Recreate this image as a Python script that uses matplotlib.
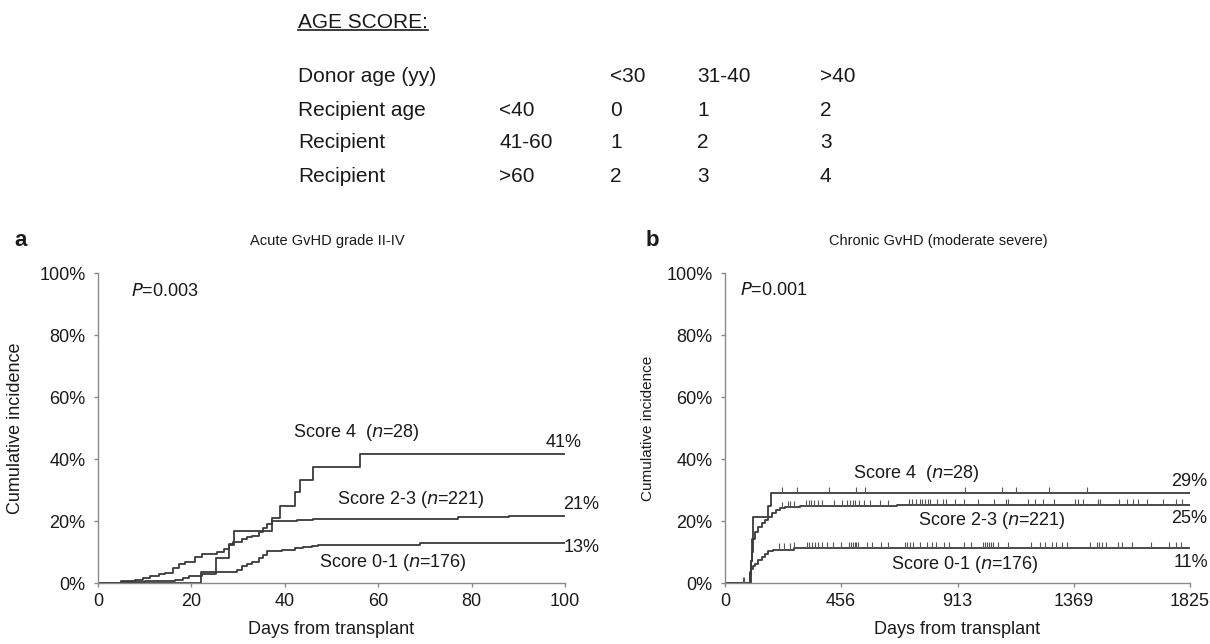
import numpy as np
import matplotlib
matplotlib.use("Agg")
import matplotlib.pyplot as plt
from matplotlib.lines import Line2D
from matplotlib.ticker import FuncFormatter

plt.rcParams['font.family'] = ['Liberation Sans', 'DejaVu Sans']

W, H = 1210, 644

# ---- age score table ----
table_header = ["Donor age (yy)", "", "<30", "31-40", ">40"]
table_rows = [["Recipient age", "<40", "0", "1", "2"],
              ["Recipient", "41-60", "1", "2", "3"],
              ["Recipient", ">60", "2", "3", "4"]]

# ---- panel a: acute GvHD grade II-IV (days 0-100) ----
a_s4_days = [0, 22, 25.2, 28.1, 29.2, 37.2, 39, 42.2, 43.2, 46.1, 56, 100]
a_s4_ci = [0, 3.7, 8.0, 12.3, 16.8, 21.0, 25.0, 29.3, 33.3, 37.4, 41.5, 41.5]

a_s23_days = [0, 5, 6.5, 8, 9.7, 11.1, 13, 14.4, 16.1, 17.3, 18.6, 20.8, 22.2, 25.4,
              26.9, 28, 29, 30.8, 32, 33, 34.4, 35.4, 36.1, 37.2, 42.6, 46, 56, 77, 88, 100]
a_s23_ci = [0, 0.5, 0.8, 1.0, 1.5, 2.2, 2.8, 3.3, 5.0, 6.0, 6.7, 8.3, 9.4, 9.9,
            11.0, 12.6, 13.1, 14.2, 14.8, 15.3, 16.3, 17.6, 19.0, 20.1, 20.3, 20.5, 20.7, 21.2, 21.7, 21.7]

a_s01_days = [0, 5, 10, 16.5, 18.3, 19.4, 22.2, 25.3, 29.7, 30.8, 31.9, 33, 34.4, 35.3,
              36.1, 39.4, 42.2, 44, 45.8, 47.2, 69, 100]
a_s01_ci = [0, 0.3, 0.6, 1.1, 1.6, 2.4, 3.0, 3.6, 4.3, 5.4, 6.2, 6.9, 8.1, 9.1,
            10.2, 10.8, 11.3, 11.7, 12.0, 12.3, 12.9, 12.9]

# ---- panel b: chronic GvHD (days 0-1825) ----
b_s4_days = [0, 100, 103, 106, 110, 170, 181, 1825]
b_s4_ci = [0, 3.6, 7.1, 14.3, 21.4, 25.0, 29.0, 29.0]

b_s23_days = [0, 100, 102, 105, 109, 118, 131, 145, 158, 170, 184, 201, 217, 236, 296, 674, 1825]
b_s23_ci = [0, 3, 7, 10, 14.3, 16.5, 18.1, 19.2, 20.3, 21.4, 22.5, 23.6, 24.2, 24.5, 24.7, 25.2, 25.2]

b_s01_days = [0, 101, 103, 110, 118, 131, 145, 158, 170, 190, 270, 1825]
b_s01_ci = [0, 2.5, 4.6, 5.5, 6.2, 7.3, 8.4, 9.4, 10.2, 10.8, 11.3, 11.3]

# censoring marks (days)
cens_s4 = [224, 284, 407, 515, 550, 941, 1088, 1142, 1273, 1420]
cens_s23 = [222, 248, 256, 270, 317, 328, 339, 351, 366, 381, 428, 459, 478, 491, 502, 511,
            527, 547, 570, 608, 640, 721, 733, 750, 765, 775, 783, 795, 804, 831, 855, 866,
            903, 938, 991, 1056, 1102, 1109, 1188, 1215, 1250, 1291, 1372, 1386, 1405, 1465,
            1473, 1548, 1578, 1600, 1620, 1656, 1718, 1770, 1792]
cens_s01 = [211, 231, 256, 270, 321, 331, 342, 353, 366, 381, 400, 423, 456, 488, 495, 502,
            509, 515, 522, 557, 578, 612, 640, 707, 716, 726, 737, 765, 793, 813, 830, 859,
            880, 938, 966, 1012, 1021, 1028, 1035, 1043, 1052, 1070, 1111, 1201, 1236, 1257,
            1282, 1298, 1323, 1343, 1434, 1459, 1467, 1479, 1495, 1541, 1558, 1596, 1673,
            1742, 1770, 1790]
cens_zero = [70, 76]

line_c = "#3a3a3a"
spine_c = "#8a8a8a"
text_c = "#1a1a1a"
fs = 13


def px(x, y):
    return x / W, 1 - y / H


fig = plt.figure(figsize=(W / 100, H / 100), dpi=100)


def style_axes(ax, xmax, xticks):
    ax.set_xlim(0, xmax)
    ax.set_ylim(0, 100)
    ax.set_xticks(xticks)
    ax.set_yticks(range(0, 101, 20))
    ax.yaxis.set_major_formatter(FuncFormatter(lambda v, p: "%d%%" % v))
    for s in ["top", "right"]:
        ax.spines[s].set_visible(False)
    for s in ["left", "bottom"]:
        ax.spines[s].set_color(spine_c)
        ax.spines[s].set_linewidth(1.0)
    ax.tick_params(direction="out", length=3, width=1, color=spine_c,
                   labelsize=fs, labelcolor=text_c)
    ax.tick_params(axis="x", pad=4)
    ax.tick_params(axis="y", pad=6)
    ax.set_xlabel("Days from transplant", fontsize=fs, color=text_c)
    ax.xaxis.set_label_coords(0.5, -38 / 310)


def at_day(days, ci, d):
    i = np.searchsorted(days, d, side="right") - 1
    return ci[i]


# panel a
axa = fig.add_axes([98 / W, 1 - 583 / H, 467 / W, 310 / H])
for d, c in [(a_s4_days, a_s4_ci), (a_s23_days, a_s23_ci), (a_s01_days, a_s01_ci)]:
    axa.step(d, c, where="post", color=line_c, lw=1.3)
style_axes(axa, 100, [0, 20, 40, 60, 80, 100])
axa.set_ylabel("Cumulative incidence", fontsize=fs, color=text_c)
axa.yaxis.set_label_coords(-74 / 467, 0.5)
axa.text(7.1, 94, "$P$=0.003", fontsize=fs, color=text_c, va="center")
axa.text(41.8, 48.4, "Score 4  ($n$=28)", fontsize=fs, color=text_c, va="center")
axa.text(51.2, 26.8, "Score 2-3 ($n$=221)", fontsize=fs, color=text_c, va="center")
axa.text(47.3, 6.5, "Score 0-1 ($n$=176)", fontsize=fs, color=text_c, va="center")
axa.text(95.9, 45.2, "41%", fontsize=fs, color=text_c, va="center")
axa.text(99.6, 25.2, "21%", fontsize=fs, color=text_c, va="center")
axa.text(99.8, 11.3, "13%", fontsize=fs, color=text_c, va="center")

# panel b
axb = fig.add_axes([725 / W, 1 - 583 / H, 465 / W, 310 / H])
groups_b = [(b_s4_days, b_s4_ci, cens_s4), (b_s23_days, b_s23_ci, cens_s23),
            (b_s01_days, b_s01_ci, cens_s01)]
for d, c, cens in groups_b:
    axb.step(d, c, where="post", color=line_c, lw=1.3)
    ys = [at_day(d, c, t) for t in cens]
    axb.vlines(cens, ys, np.array(ys) + 2.0, color="#555555", lw=0.8)
axb.vlines(cens_zero, 0, 2.0, color="#555555", lw=0.8)
style_axes(axb, 1825, [0, 456, 913, 1369, 1825])
axb.set_ylabel("Cumulative incidence", fontsize=11, color=text_c)
axb.yaxis.set_label_coords(-70 / 465, 0.5)
axb.text(59, 94.5, "$P$=0.001", fontsize=fs, color=text_c, va="center")
axb.text(502, 35.4, "Score 4  ($n$=28)", fontsize=fs, color=text_c, va="center")
axb.text(757, 20.2, "Score 2-3 ($n$=221)", fontsize=fs, color=text_c, va="center")
axb.text(651, 6.0, "Score 0-1 ($n$=176)", fontsize=fs, color=text_c, va="center")
axb.text(1750, 32.7, "29%", fontsize=fs, color=text_c, va="center")
axb.text(1750, 20.7, "25%", fontsize=fs, color=text_c, va="center")
axb.text(1760, 6.5, "11%", fontsize=fs, color=text_c, va="center")

# panel letters and titles
fig.text(*px(14, 240), "a", fontsize=16, fontweight="bold", va="center", color=text_c)
fig.text(*px(646, 240), "b", fontsize=16, fontweight="bold", va="center", color=text_c)
fig.text(*px(327, 241), "Acute GvHD grade II-IV", fontsize=10.5, ha="center", va="center", color=text_c)
fig.text(*px(938, 241), "Chronic GvHD (moderate severe)", fontsize=10.5, ha="center", va="center", color=text_c)

# age score table
col_x = [298, 499, 610, 697, 820]
row_y = [77, 110, 143, 176]
title = fig.text(*px(298, 22), "AGE SCORE:", fontsize=15, va="center", color=text_c)
for j, s in enumerate(table_header):
    fig.text(*px(col_x[j], row_y[0]), s, fontsize=15, va="center", color=text_c)
for i, row in enumerate(table_rows):
    for j, s in enumerate(row):
        fig.text(*px(col_x[j], row_y[i + 1]), s, fontsize=15, va="center", color=text_c)

fig.canvas.draw()
bb = title.get_window_extent().transformed(fig.transFigure.inverted())
fig.add_artist(Line2D([bb.x0, bb.x1], [bb.y0 + 0.002, bb.y0 + 0.002],
                      transform=fig.transFigure, color=text_c, lw=1.2))

fig.savefig("out.png", dpi=100)
